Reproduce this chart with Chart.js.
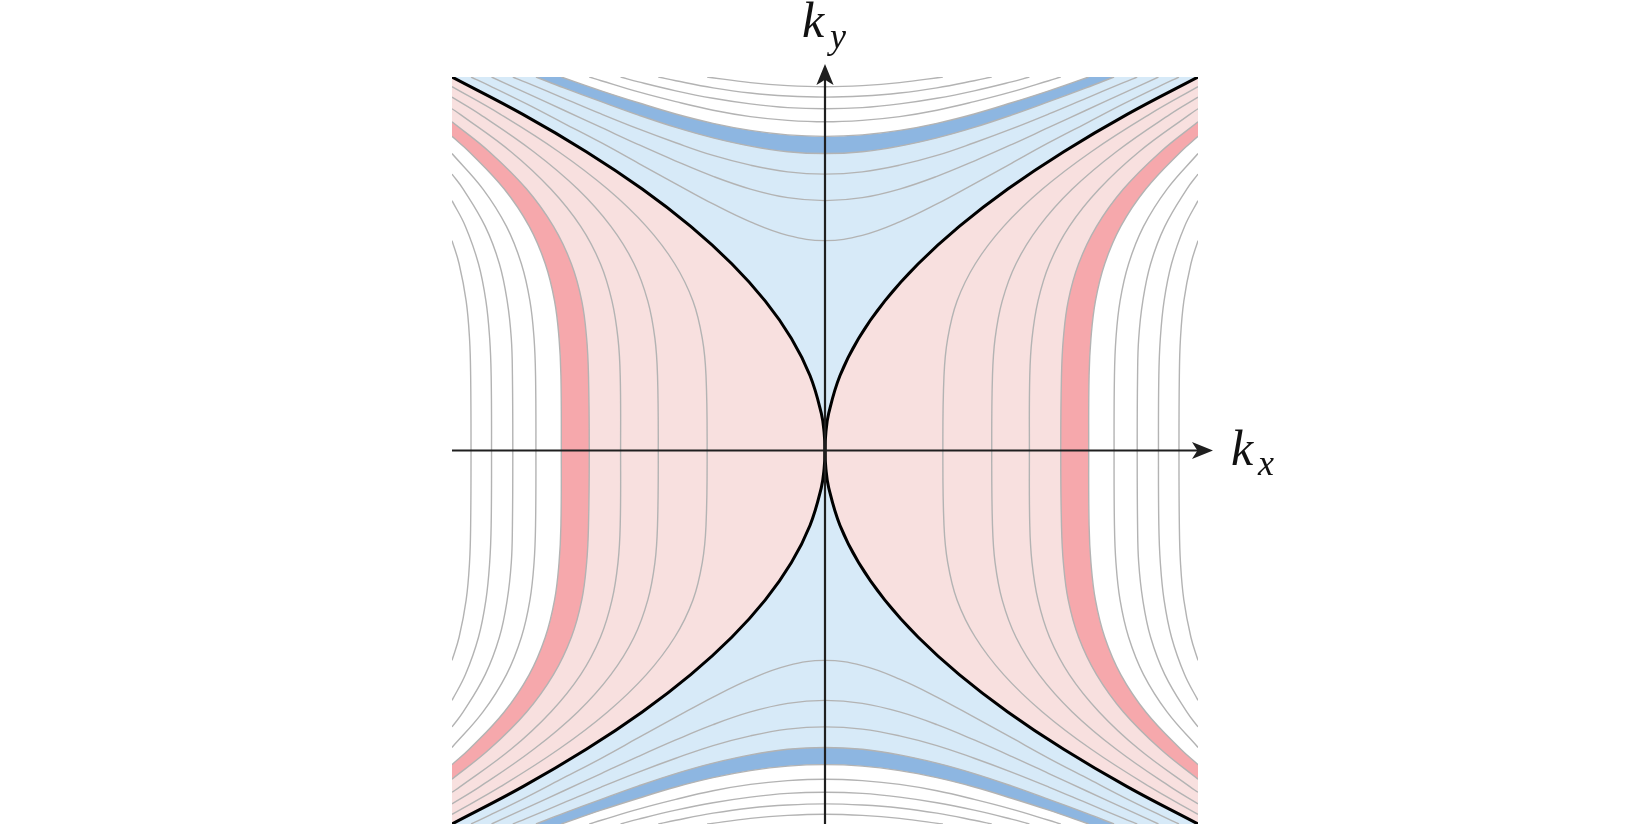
<!DOCTYPE html>
<html>
<head>
<meta charset="utf-8">
<script src="https://cdn.jsdelivr.net/npm/chart.js@4.4.0/dist/chart.umd.min.js"></script>
<style>
  html, body { margin: 0; padding: 0; background: #fff; }
  #wrap { width: 1648px; height: 827px; }
</style>
</head>
<body>
<div id="wrap"><canvas id="my-chart"></canvas></div>
<script>
// contours, one quadrant each (the plot is mirror symmetric)
// pink contours: kx position at each ky row, then where they leave the side edge
const pinkLevels = [0.1, 0.2, 0.3, 0.4, 0.5, 0.6, 0.7, 0.8, 0.9];
const kyRows = [0, 0.2, 0.3, 0.4, 0.5, 0.6, 0.7, 0.8, 0.9];
const pinkKx = [
  [0.316, 0.319, 0.329, 0.354, 0.403, 0.479, 0.583, 0.714, 0.870],
  [0.447, 0.449, 0.456, 0.475, 0.512, 0.574, 0.663, 0.781, 0.925],
  [0.548, 0.549, 0.555, 0.571, 0.602, 0.655, 0.735, 0.842, 0.978],
  [0.632, 0.634, 0.639, 0.652, 0.680, 0.728, 0.800, 0.900],
  [0.707, 0.708, 0.713, 0.725, 0.750, 0.793, 0.860, 0.954],
  [0.775, 0.776, 0.780, 0.791, 0.814, 0.854, 0.917],
  [0.837, 0.838, 0.841, 0.852, 0.873, 0.911, 0.970],
  [0.894, 0.895, 0.899, 0.909, 0.929, 0.964],
  [0.949, 0.950, 0.953, 0.962, 0.981]
];
const pinkExitKy = [0.974, 0.946, 0.915, 0.880, 0.841, 0.795, 0.740, 0.669, 0.562];

// blue contours: ky position at each kx column, then where they leave the top edge
const blueLevels = [-0.1, -0.2, -0.3, -0.4, -0.5, -0.6, -0.7, -0.8, -0.9];
const kxCols = [0, 0.1, 0.2, 0.3, 0.4, 0.5, 0.6, 0.7, 0.8, 0.9];
const blueKy = [
  [0.562, 0.576, 0.612, 0.660, 0.714, 0.769, 0.824, 0.876, 0.928, 0.977],
  [0.669, 0.677, 0.700, 0.734, 0.775, 0.819, 0.865, 0.911, 0.957],
  [0.740, 0.746, 0.764, 0.790, 0.824, 0.861, 0.901, 0.943, 0.985],
  [0.795, 0.800, 0.815, 0.837, 0.865, 0.898, 0.934, 0.971],
  [0.841, 0.845, 0.857, 0.876, 0.901, 0.931, 0.963],
  [0.880, 0.884, 0.894, 0.911, 0.934, 0.960, 0.990],
  [0.915, 0.918, 0.928, 0.943, 0.963, 0.987],
  [0.946, 0.949, 0.957, 0.971, 0.990],
  [0.974, 0.977, 0.985]
];
const blueExitKx = [0.949, 0.894, 0.837, 0.775, 0.707, 0.632, 0.548, 0.447, 0.316];

// zero contour (black)
const zeroKy = [0, 0.05, 0.1, 0.2, 0.3, 0.4, 0.5, 0.6, 0.7, 0.8, 0.9, 1.0];
const zeroKx = [0, 0.0025, 0.01, 0.04, 0.09, 0.16, 0.25, 0.36, 0.49, 0.64, 0.81, 1.0];

// the darker band sits between these two levels (same on both sides)
const bandLevels = [0.4, 0.5];

const LIGHT_PINK = '#f8e0df', DARK_PINK = '#f6a8ac';
const LIGHT_BLUE = '#d7eaf8', DARK_BLUE = '#8db6e1';
const GREY = '#b3b3b3';

const flipX = pts => pts.map(p => ({x: -p.x, y: p.y}));
const flipY = pts => pts.map(p => ({x: p.x, y: -p.y}));

// right-hand pink contour, from bottom edge through the kx axis to the top edge
function pinkCurve(i) {
  const up = pinkKx[i].map((kx, j) => ({x: kx, y: kyRows[j]}));
  up.push({x: 1, y: pinkExitKy[i]});
  return flipY(up.slice(1)).reverse().concat(up);
}
// upper blue contour, from top edge on the left over the ky axis to the top edge on the right
function blueCurve(i) {
  const right = blueKy[i].map((ky, j) => ({x: kxCols[j], y: ky}));
  right.push({x: blueExitKx[i], y: 1});
  return flipX(right.slice(1)).reverse().concat(right);
}

const zeroUp = zeroKy.map((ky, j) => ({x: zeroKx[j], y: ky}));
const zeroRight = flipY(zeroUp.slice(1)).reverse().concat(zeroUp);
// region between the two black branches, upper half (origin doubled for a sharp cusp)
const hourglassTop = flipX(zeroUp).reverse().concat(zeroUp);

const fillSet = (pts, color, tension) => ({
  data: pts, fill: 'shape', backgroundColor: color, borderWidth: 0,
  pointRadius: 0, tension: tension === undefined ? 0.4 : tension
});
const lineSet = (pts, color, width) => ({
  data: pts, fill: false, borderColor: color, borderWidth: width,
  pointRadius: 0, tension: 0.4
});

const inner = pinkLevels.indexOf(bandLevels[0]);
const outer = pinkLevels.indexOf(bandLevels[1]);

// painted bottom first
const sets = [];
sets.push(fillSet([{x: -1, y: -1}, {x: 1, y: -1}, {x: 1, y: 1}, {x: -1, y: 1}], LIGHT_PINK, 0));
sets.push(fillSet(pinkCurve(inner), DARK_PINK), fillSet(flipX(pinkCurve(inner)), DARK_PINK));
sets.push(fillSet(pinkCurve(outer), '#ffffff'), fillSet(flipX(pinkCurve(outer)), '#ffffff'));
sets.push(fillSet(hourglassTop, LIGHT_BLUE), fillSet(flipY(hourglassTop), LIGHT_BLUE));
const bInner = blueLevels.indexOf(-bandLevels[0]);
const bOuter = blueLevels.indexOf(-bandLevels[1]);
sets.push(fillSet(blueCurve(bInner), DARK_BLUE), fillSet(flipY(blueCurve(bInner)), DARK_BLUE));
sets.push(fillSet(blueCurve(bOuter), '#ffffff'), fillSet(flipY(blueCurve(bOuter)), '#ffffff'));
pinkLevels.forEach((lv, i) => {
  sets.push(lineSet(pinkCurve(i), GREY, 1.4), lineSet(flipX(pinkCurve(i)), GREY, 1.4));
});
blueLevels.forEach((lv, i) => {
  sets.push(lineSet(blueCurve(i), GREY, 1.4), lineSet(flipY(blueCurve(i)), GREY, 1.4));
});
sets.push(lineSet(zeroRight, '#000000', 3), lineSet(flipX(zeroRight), '#000000', 3));
sets.forEach((d, i) => { d.order = sets.length - i; });

function arrowHead(ctx, tx, ty, ang) {
  ctx.save();
  ctx.translate(tx, ty);
  ctx.rotate(ang);
  ctx.beginPath();
  ctx.moveTo(0, 0);
  ctx.lineTo(-21, -8.6);
  ctx.quadraticCurveTo(-17, -2, -15.5, 0);
  ctx.quadraticCurveTo(-17, 2, -21, 8.6);
  ctx.closePath();
  ctx.fill();
  ctx.restore();
}

const axesPlugin = {
  id: 'kaxes',
  afterDatasetsDraw(chart) {
    const {ctx, chartArea: a, scales} = chart;
    const x0 = scales.x.getPixelForValue(0);
    const y0 = scales.y.getPixelForValue(0);
    const xTip = a.right + 15, yTip = a.top - 13;
    ctx.save();
    ctx.strokeStyle = '#1f1f1f';
    ctx.fillStyle = '#1f1f1f';
    ctx.lineWidth = 2.2;
    ctx.beginPath();
    ctx.moveTo(a.left, y0); ctx.lineTo(xTip - 8, y0);
    ctx.moveTo(x0, a.bottom); ctx.lineTo(x0, yTip + 8);
    ctx.stroke();
    arrowHead(ctx, xTip, y0, 0);
    arrowHead(ctx, x0, yTip, -Math.PI / 2);

    ctx.fillStyle = '#111111';
    ctx.textBaseline = 'alphabetic';
    ctx.font = 'italic 50px "Liberation Serif"';
    ctx.fillText('k', x0 - 23, a.top - 40);
    ctx.fillText('k', a.right + 33, y0 + 14);
    ctx.font = 'italic 36px "Liberation Serif"';
    ctx.fillText('y', x0 + 5, a.top - 29);
    ctx.fillText('x', a.right + 60, y0 + 24);
    ctx.restore();
  }
};

const chart = new Chart(document.getElementById('my-chart').getContext('2d'), {
  type: 'line',
  data: { datasets: sets },
  options: {
    responsive: true,
    maintainAspectRatio: false,
    animation: false,
    events: [],
    layout: { padding: { left: 452, right: 450, top: 77, bottom: 3 } },
    scales: {
      x: { type: 'linear', min: -1, max: 1, display: false },
      y: { type: 'linear', min: -1, max: 1, display: false }
    },
    plugins: { legend: { display: false }, tooltip: { enabled: false }, title: { display: false } }
  },
  plugins: [axesPlugin]
});
</script>
</body>
</html>
